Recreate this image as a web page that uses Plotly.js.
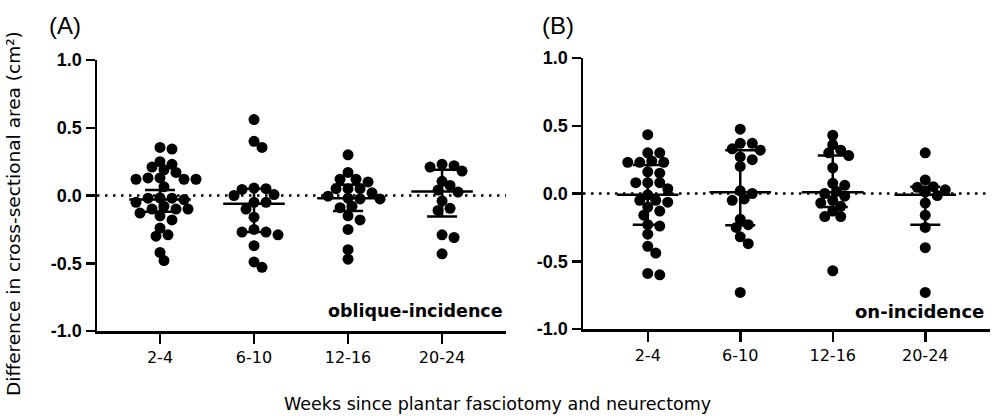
<!DOCTYPE html>
<html>
<head>
<meta charset="utf-8">
<script src="https://cdn.plot.ly/plotly-3.0.1.min.js"></script>
<style>html,body{margin:0;padding:0;background:#fff;}#chart{width:992px;height:416px;}</style>
</head>
<body>
<div id="chart"></div>
<script>
// ---- data ----
var categories = ["2-4", "6-10", "12-16", "20-24"];
var yTickVals = [-1, -0.5, 0, 0.5, 1];
var yTickText = ["-1.0", "-0.5", "0.0", "0.5", "1.0"];

// Panel A: oblique-incidence
var A_2_4 = [0.355, 0.343, 0.25, 0.23, 0.21, 0.19, 0.17, 0.13, 0.13, 0.12, 0.12, 0.12, 0.064, -0.017, -0.02, -0.02, -0.03, -0.05, -0.08, -0.10, -0.10, -0.10, -0.13, -0.15, -0.18, -0.24, -0.29, -0.30, -0.42, -0.48];
var A_6_10 = [0.56, 0.40, 0.355, 0.055, 0.05, 0.045, 0.007, 0.0, -0.05, -0.05, -0.10, -0.16, -0.25, -0.27, -0.27, -0.29, -0.37, -0.49, -0.53];
var A_12_16 = [0.30, 0.17, 0.12, 0.12, 0.10, 0.05, 0.05, 0.05, 0.02, -0.005, -0.02, -0.025, -0.025, -0.08, -0.09, -0.15, -0.18, -0.25, -0.40, -0.47];
var A_20_24 = [0.23, 0.22, 0.21, 0.18, 0.105, 0.074, 0.04, 0.025, -0.04, -0.095, -0.11, -0.29, -0.31, -0.43];
var A_median = [-0.03, -0.06, -0.02, 0.03];
var A_q1 = [-0.12, -0.27, -0.115, -0.155];
var A_q3 = [0.04, 0.05, 0.08, 0.19];

// Panel B: on-incidence
var B_2_4 = [0.434, 0.30, 0.30, 0.24, 0.23, 0.23, 0.23, 0.16, 0.15, 0.08, 0.08, 0.08, 0.035, -0.01, -0.05, -0.05, -0.064, -0.10, -0.13, -0.16, -0.23, -0.24, -0.30, -0.39, -0.44, -0.59, -0.60];
var B_6_10 = [0.475, 0.37, 0.37, 0.33, 0.32, 0.27, 0.25, 0.20, 0.02, 0.0, -0.04, -0.05, -0.19, -0.23, -0.25, -0.32, -0.37, -0.73];
var B_12_16 = [0.43, 0.36, 0.32, 0.30, 0.28, 0.19, 0.075, 0.06, 0.015, 0.0, -0.02, -0.05, -0.07, -0.095, -0.13, -0.17, -0.17, -0.57];
var B_20_24 = [0.30, 0.10, 0.05, 0.046, 0.027, 0.01, -0.015, -0.07, -0.16, -0.25, -0.40, -0.73];
var B_median = [-0.01, 0.01, 0.01, -0.01];
var B_q1 = [-0.23, -0.235, -0.10, -0.23];
var B_q3 = [0.21, 0.32, 0.28, 0.05];

var panelLabels = ["(A)", "(B)"];
var panelNotes = ["oblique-incidence", "on-incidence"];
var yTitle = "Difference in cross-sectional area (cm²)";
var xTitle = "Weeks since plantar fasciotomy and neurectomy";

// ---- geometry ----
var W = 992, H = 416;
var geomA = {x0: 97, x1: 506, yTop: 60, yBot: 331, range: [-0.67, 3.68]};
var geomB = {x0: 583, x1: 990, yTop: 58, yBot: 329, range: [-0.70, 3.70]};

function swarm(groups, g) {
  var xpx = (g.x1 - g.x0) / (g.range[1] - g.range[0]);
  var ypx = (g.yBot - g.yTop) / 2;
  var D = 9.0, step = 4.0;
  var xs = [], ys = [];
  groups.forEach(function (vals, gi) {
    var sorted = vals.slice().sort(function (a, b) { return b - a; });
    var placed = [];
    sorted.forEach(function (v) {
      var off = 0;
      for (var k = 0; k < 60; k++) {
        var m = (k === 0) ? 0 : (k % 2 === 1 ? (k + 1) / 2 : -k / 2);
        var o = m * step, ok = true;
        for (var p = 0; p < placed.length; p++) {
          var dx = o - placed[p].o, dy = (v - placed[p].v) * ypx;
          if (dx * dx + dy * dy < D * D) { ok = false; break; }
        }
        if (ok) { off = o; break; }
      }
      placed.push({o: off, v: v});
      xs.push(gi + off / xpx);
      ys.push(v);
    });
  });
  return {x: xs, y: ys};
}

function diff(a, b) { return a.map(function (v, i) { return v - b[i]; }); }

var sA = swarm([A_2_4, A_6_10, A_12_16, A_20_24], geomA);
var sB = swarm([B_2_4, B_6_10, B_12_16, B_20_24], geomB);

var dotMarker = {symbol: "circle", size: 11, color: "#000"};
function medTrace(med, q1, q3, xa, ya) {
  return {
    type: "scatter", mode: "markers", xaxis: xa, yaxis: ya,
    x: [0, 1, 2, 3], y: med,
    marker: {symbol: "line-ew", size: 44, color: "#000", line: {color: "#000", width: 2.5}},
    error_y: {type: "data", symmetric: false, array: diff(q3, med), arrayminus: diff(med, q1),
              color: "#000", thickness: 2.5, width: 15},
    hoverinfo: "skip"
  };
}

var traces = [
  {type: "scatter", mode: "markers", x: sA.x, y: sA.y, xaxis: "x", yaxis: "y", marker: dotMarker, hoverinfo: "skip"},
  medTrace(A_median, A_q1, A_q3, "x", "y"),
  {type: "scatter", mode: "markers", x: sB.x, y: sB.y, xaxis: "x2", yaxis: "y2", marker: dotMarker, hoverinfo: "skip"},
  medTrace(B_median, B_q1, B_q3, "x2", "y2")
];

var tickFontX = {family: "DejaVu Sans", size: 16, color: "#000"};
var tickFontY = {family: "Liberation Sans", size: 18, color: "#000", weight: "bold"};

function xAxis(g, anchor) {
  return {
    domain: [g.x0 / W, g.x1 / W], range: g.range, anchor: anchor,
    tickmode: "array", tickvals: [0, 1, 2, 3], ticktext: categories,
    ticks: "outside", ticklen: 10, tickwidth: 2.5, tickcolor: "#000",
    showline: true, linewidth: 2.5, linecolor: "#000",
    showgrid: false, zeroline: false, tickfont: tickFontX, fixedrange: true
  };
}
function yAxis(g, anchor) {
  return {
    domain: [1 - g.yBot / H, 1 - g.yTop / H], range: [-1, 1], anchor: anchor,
    tickmode: "array", tickvals: yTickVals, ticktext: yTickText,
    ticks: "outside", ticklen: 9, tickwidth: 2.5, tickcolor: "#000",
    showline: true, linewidth: 2.5, linecolor: "#000",
    showgrid: false, zeroline: false, tickfont: tickFontY, fixedrange: true
  };
}

var layout = {
  width: W, height: H,
  margin: {l: 0, r: 0, t: 0, b: 0},
  paper_bgcolor: "#fff", plot_bgcolor: "#fff",
  showlegend: false,
  xaxis: xAxis(geomA, "y"), yaxis: yAxis(geomA, "x"),
  xaxis2: xAxis(geomB, "y2"), yaxis2: yAxis(geomB, "x2"),
  shapes: [
    {type: "line", xref: "x", yref: "y", x0: geomA.range[0], x1: geomA.range[1], y0: 0, y1: 0,
     layer: "below", line: {color: "#000", width: 2.5, dash: "2.5px,5.5px"}},
    {type: "line", xref: "x2", yref: "y2", x0: geomB.range[0], x1: geomB.range[1], y0: 0, y1: 0,
     layer: "below", line: {color: "#000", width: 2.5, dash: "2.5px,5.5px"}}
  ],
  annotations: [
    {text: panelLabels[0], xref: "paper", yref: "paper", x: 65 / W, y: 1 - 25 / H, xanchor: "center", yanchor: "middle",
     showarrow: false, font: {family: "Liberation Sans", size: 24, color: "#000"}},
    {text: panelLabels[1], xref: "paper", yref: "paper", x: 558 / W, y: 1 - 25 / H, xanchor: "center", yanchor: "middle",
     showarrow: false, font: {family: "Liberation Sans", size: 24, color: "#000"}},
    {text: panelNotes[0], xref: "paper", yref: "paper", x: 505 / W, y: 1 - 311 / H, xanchor: "right", yanchor: "middle",
     showarrow: false, font: {family: "DejaVu Sans", size: 17.5, color: "#000", weight: "bold"}},
    {text: panelNotes[1], xref: "paper", yref: "paper", x: 986 / W, y: 1 - 311 / H, xanchor: "right", yanchor: "middle",
     showarrow: false, font: {family: "DejaVu Sans", size: 18, color: "#000", weight: "bold"}},
    {text: yTitle, xref: "paper", yref: "paper", x: 14 / W, y: 1 - 214 / H, xanchor: "center", yanchor: "middle",
     textangle: -90, showarrow: false, font: {family: "DejaVu Sans", size: 18.5, color: "#000"}},
    {text: xTitle, xref: "paper", yref: "paper", x: 497 / W, y: 1 - 404 / H, xanchor: "center", yanchor: "middle",
     showarrow: false, font: {family: "DejaVu Sans", size: 17.5, color: "#000"}}
  ]
};

Plotly.newPlot("chart", traces, layout, {staticPlot: true, displayModeBar: false});
</script>
</body>
</html>
